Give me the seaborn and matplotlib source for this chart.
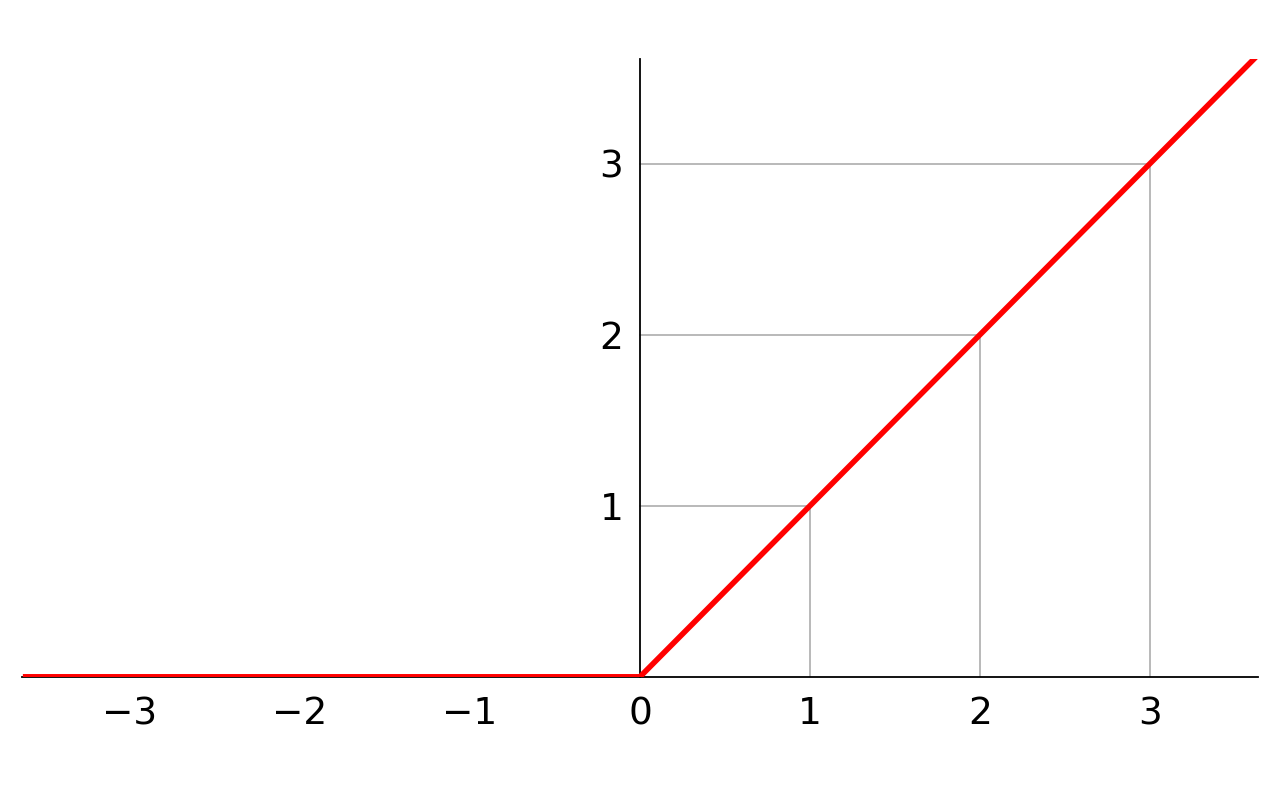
import numpy as np
import matplotlib
matplotlib.use("Agg")
import matplotlib.pyplot as plt
import seaborn as sns
import pandas as pd

# ReLU curve sample points
x_vals = [-3.63, 0.0, 3.63]
y_vals = [0.0, 0.0, 3.63]
x_ticks = [-3, -2, -1, 0, 1, 2, 3]
y_ticks = [1, 2, 3]
guide_levels = [1, 2, 3]

sns.set_theme(style="white")
plt.rcParams['font.family'] = ['DejaVu Sans']

fig = plt.figure(figsize=(12.8, 8), dpi=100)
ax = fig.add_axes([0.0172, 0.154, 0.9656, 0.772])

# guide lines from the axes to the curve
for g in guide_levels:
    ax.plot([0, g], [g, g], color="#b3b3b3", lw=1.3, zorder=1)
    ax.plot([g, g], [0, g], color="#b3b3b3", lw=1.3, zorder=1)

df = pd.DataFrame({"x": x_vals, "y": y_vals})
sns.lineplot(data=df, x="x", y="y", color="red", lw=4, ax=ax, zorder=3,
             solid_capstyle="butt")

ax.set_xlim(-3.635, 3.635)
ax.set_ylim(0, 3.61)
ax.spines['left'].set_position(('data', 0))
ax.spines['bottom'].set_position(('data', 0))
ax.spines['right'].set_visible(False)
ax.spines['top'].set_visible(False)
for s in ("left", "bottom"):
    ax.spines[s].set_color("black")
    ax.spines[s].set_linewidth(1.3)

ax.set_xticks(x_ticks)
ax.set_xticklabels([("\u2212" if t < 0 else "") + str(abs(t)) for t in x_ticks])
ax.set_yticks(y_ticks)
ax.set_yticklabels([str(t) for t in y_ticks])
ax.tick_params(axis="both", length=0, labelsize=27, colors="black")
ax.tick_params(axis="x", pad=14)
ax.tick_params(axis="y", pad=12)
ax.set_xlabel("")
ax.set_ylabel("")
ax.grid(False)

fig.savefig("out.png", dpi=100)
